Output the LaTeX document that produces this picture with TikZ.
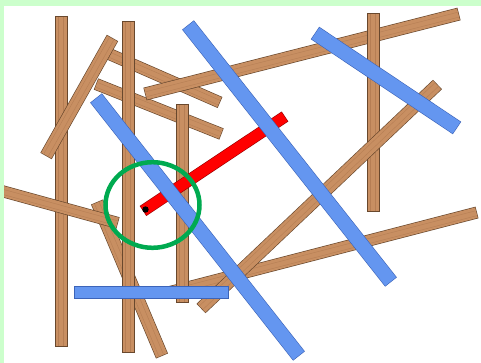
\documentclass[tikz,border=0pt]{standalone}
\usetikzlibrary{calc}
\definecolor{bggreen}{RGB}{204,255,204}
\definecolor{woodfill}{RGB}{200,143,98}
\definecolor{woodedge}{RGB}{105,72,45}
\definecolor{woodgrain}{RGB}{170,115,75}
\definecolor{bluefill}{RGB}{100,150,240}
\definecolor{blueedge}{RGB}{60,100,185}
\definecolor{redfill}{RGB}{255,0,0}
\definecolor{rededge}{RGB}{150,0,0}
\definecolor{ringgreen}{RGB}{0,170,80}
\tikzset{grainline/.style={draw=woodgrain, line width=0.4pt, opacity=0.6}}
% #1 start, #2 end, #3 outer width, #4 inner width, #5 fill, #6 edge
\newcommand\drawstick[6]{%
  \draw[line width=#3, draw=#6] (#1) -- (#2);
  \draw[line width=#4, draw=#5, shorten >=0.6pt, shorten <=0.6pt] (#1) -- (#2);
}
\newcommand\woodstick[3]{%
  \drawstick{#1}{#2}{#3pt}{#3pt-1.3pt}{woodfill}{woodedge}%
  \draw[grainline, shorten >=1pt, shorten <=1pt] ($(#1)!2pt!90:(#2)$) -- ($(#2)!2pt!-90:(#1)$);
  \draw[grainline, shorten >=1pt, shorten <=1pt] ($(#1)!3pt!-90:(#2)$) -- ($(#2)!3pt!90:(#1)$);
}
\newcommand\bluestick[3]{\drawstick{#1}{#2}{#3pt}{#3pt-1.2pt}{bluefill}{blueedge}}
\begin{document}
\begin{tikzpicture}[x=1pt,y=-1pt]
\useasboundingbox (0,0) rectangle (481,363);
\fill[bggreen] (0,0) rectangle (481,363);
\fill[white] (4,6) rectangle (481,363);
\begin{scope}
\clip (4,6) rectangle (481,363);
% wood sticks, back to front
\woodstick{61.5,16}{61.5,347}{13}   % A
\woodstick{97,202}{162,356}{13}     % L
\woodstick{-2,190}{118,223}{12}     % K
\woodstick{100,50}{220,102.5}{12}   % D
\woodstick{112.5,38}{46,156}{13}    % C
\woodstick{96,84}{221.5,134}{12}    % E
\woodstick{128.5,21}{128.5,353}{13} % B
\woodstick{145,94}{459,14}{13}      % F
\woodstick{373.5,13}{373.5,212}{13} % G
\woodstick{170,292}{477,212.5}{12}  % J
\woodstick{437.5,84.5}{201,308.5}{13} % I
\woodstick{182.5,104}{182.5,303}{13}  % H
% red stick
\drawstick{143,211}{285,116.5}{12pt}{10.8pt}{redfill}{rededge}
\fill[black] (145.5,209.5) circle (3.2);
% blue sticks
\bluestick{188,25}{391,282}{15}
\bluestick{315,33}{457,128}{15}
\bluestick{96,98}{299,356}{15}
\bluestick{74,292.5}{229,292.5}{13}
% ring
\draw[ringgreen, line width=4.5pt] (152.5,205) ellipse [x radius=47, y radius=42.8];
\end{scope}
\end{tikzpicture}
\end{document}
